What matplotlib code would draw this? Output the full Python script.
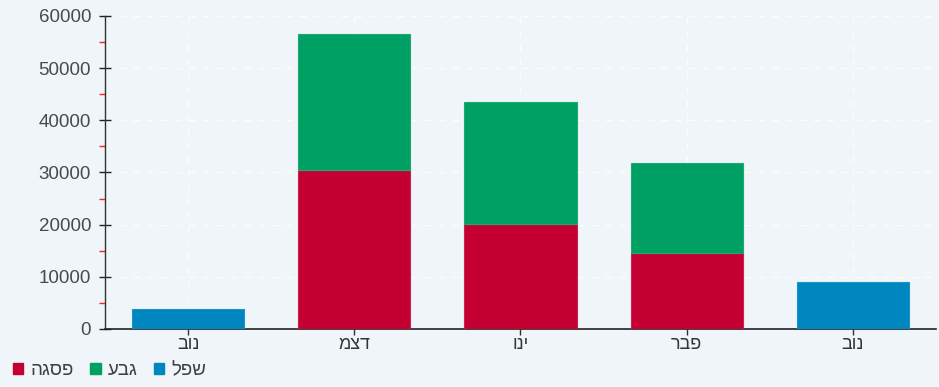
import matplotlib.pyplot as plt
import numpy as np
from matplotlib.ticker import MultipleLocator
from matplotlib.patches import Patch

# data
months = ["נוב", "דצמ", "ינו", "פבר", "נוב"]
trough = [3800, 0, 0, 0, 9100]       # שפל
peak = [0, 30500, 20100, 14600, 0]   # פסגה
hill = [0, 26050, 23400, 17150, 0]   # גבע
series_names = ["פסגה", "גבע", "שפל"]

red = "#c40032"
green = "#00a064"
blue = "#0086be"

plt.rcParams['font.family'] = ['Liberation Sans', 'DejaVu Sans']

# matplotlib lays hebrew out left-to-right, so flip the strings to get
# them shown right-to-left like in the reference
def visual(s):
    return s[::-1]

fig = plt.figure(figsize=(9.39, 3.87), dpi=100, facecolor="#eff5f9")
ax = fig.add_axes([0.1118, 0.1499, 0.885, 0.8088])
ax.set_facecolor("none")

x = np.arange(len(months))
w = 0.675
trough = np.array(trough)
peak = np.array(peak)
hill = np.array(hill)

m = trough > 0
ax.bar(x[m], trough[m], w, color=blue, edgecolor="#1a93c6", linewidth=0.8, zorder=3)
m = peak > 0
ax.bar(x[m], peak[m], w, color=red, edgecolor="#cc2050", linewidth=0.8, zorder=3)
ax.bar(x[m], hill[m], w, bottom=peak[m], color=green, edgecolor="#20a872", linewidth=0.8, zorder=3)

ax.set_xlim(-0.5, 4.5)
ax.set_ylim(0, 60000)
ax.yaxis.set_major_locator(MultipleLocator(10000))
ax.yaxis.set_minor_locator(MultipleLocator(5000))

for s in ["top", "right"]:
    ax.spines[s].set_visible(False)
ax.spines["left"].set_color("#333333")
ax.spines["bottom"].set_color("#222222")
ax.spines["left"].set_linewidth(1)
ax.spines["bottom"].set_linewidth(1.2)

ax.set_xticks(x)
ax.set_xticklabels([visual(s) for s in months])
ax.tick_params(axis="y", which="major", direction="inout", length=8, width=1,
               color="#222222", labelsize=13.5, labelcolor="#4a4a4a", pad=6)
ax.tick_params(axis="y", which="minor", direction="out", length=4, width=1, color="#ff2020")
ax.tick_params(axis="x", direction="out", length=4, width=1, color="#333333",
               labelsize=13, labelcolor="#353535", pad=1)

ax.grid(True, which="major", color="white", linestyle=(0, (5, 5)), linewidth=1,
        alpha=0.7, zorder=0)

handles = [Patch(facecolor=c, edgecolor=c, label=visual(n))
           for c, n in zip([red, green, blue], series_names)]
fig.legend(handles=handles, loc="center left", bbox_to_anchor=(0.004, 0.042), ncol=3,
           frameon=False, fontsize=13.5, handlelength=0.55, handleheight=0.55,
           handletextpad=0.4, columnspacing=0.85, borderpad=0, labelcolor="#404040")

fig.savefig("out.png", dpi=100, facecolor=fig.get_facecolor())
